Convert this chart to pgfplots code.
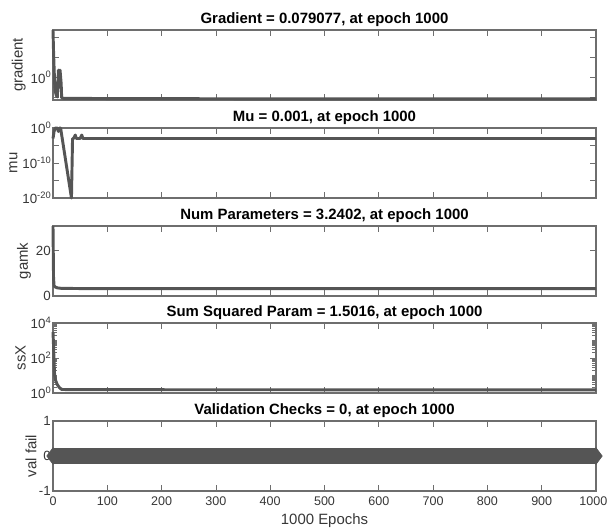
\documentclass[border=0pt]{standalone}
\usepackage{pgfplots}
\pgfplotsset{compat=1.18}
\usepackage{fontspec}
\setmainfont{Liberation Sans}

\definecolor{ln}{RGB}{85,85,85}
\definecolor{ax}{RGB}{110,110,110}
\definecolor{tk}{RGB}{55,55,55}
% power-of-ten tick label in the text font
\newcommand{\pw}[1]{10\raisebox{0.75ex}{\fontsize{7}{8}\selectfont #1}}

\pgfplotsset{
  panel/.style={
    scale only axis, width=407.25pt, height=52.5pt,
    xmin=0, xmax=1000, xtick={0,100,...,1000},
    xticklabels={},
    clip=false,
    axis line style={ax, line width=0.8pt},
    every tick/.style={ax, line width=0.6pt},
    xticklabel style={font=\fontsize{9.4}{11}\selectfont, text=tk},
    yticklabel style={font=\fontsize{10}{11}\selectfont, text=tk, inner xsep=1.5pt},
    label style={font=\fontsize{11.2}{12}\selectfont, text=tk, inner sep=2pt},
    title style={font=\fontsize{11.2}{12}\selectfont\bfseries, yshift=-7pt},
    /pgf/number format/assume math mode=true,
    yminorticks=false,
  },
  dl/.style={draw=ln, line width=2.2pt, line join=round, no markers},
}

\begin{document}
\begin{tikzpicture}
\path[use as bounding box] (-39.75pt,22.5pt) rectangle (417pt,-375.75pt);

% gradient
\begin{axis}[panel, at={(0,0)}, anchor=north west,
    ymode=log, ymin=0.07, ymax=250,
    ytick={0.1,1,10,100}, yticklabels={{},\pw{0},{},{}},
    ylabel={gradient},
    title={Gradient = 0.079077, at epoch 1000}]
\addplot[dl] coordinates {
  (0,250) (1,20) (2,3) (3,0.5) (4,0.2) (6,0.12) (8,0.1) (10,2.3) (11,0.3)
  (13,2.3) (15,0.5) (16,0.09) (20,0.085) (100,0.083) (200,0.082)
  (400,0.08) (700,0.0795) (1000,0.079077)
};
\end{axis}

% mu
\begin{axis}[panel, at={(0,-73.5pt)}, anchor=north west,
    ymode=log, ymin=1e-20, ymax=1,
    ytick={1e-20,1e-15,1e-10,1e-5,1}, yticklabels={\pw{-20},{},\pw{-10},{},\pw{0}},
    ylabel={mu},
    title={Mu = 0.001, at epoch 1000}]
\addplot[dl] coordinates {
  (0,1e-3) (2,1e-1) (4,1) (8,1) (10,0.1) (12,1) (14,1) (34,1e-20)
  (36,1e-3) (38,1e-3) (41,1e-2) (43,1e-3) (45,1e-3) (50,1e-3) (53,1e-2)
  (55,1e-3) (1000,1e-3)
};
\end{axis}

% gamk
\begin{axis}[panel, at={(0,-147pt)}, anchor=north west,
    ymin=0, ymax=31, ytick={0,20},
    ylabel={gamk},
    title={Num Parameters = 3.2402, at epoch 1000}]
\addplot[dl] coordinates {
  (0,31) (1,8) (2,4.5) (4,4) (8,3.6) (15,3.4) (50,3.3) (1000,3.2402)
};
\end{axis}

% ssX
\begin{axis}[panel, at={(0,-219.75pt)}, anchor=north west,
    ymode=log, ymin=1, ymax=1e4,
    ytick={1,100,10000}, yticklabels={\pw{0},\pw{2},\pw{4}},
    yminorticks=true,
    minor ytick={2,3,4,5,6,7,8,9,10,20,30,40,50,60,70,80,90,
                 200,300,400,500,600,700,800,900,1000,
                 2000,3000,4000,5000,6000,7000,8000,9000},
    ylabel={ssX},
    title={Sum Squared Param = 1.5016, at epoch 1000}]
\addplot[dl] coordinates {
  (0,3000) (1,500) (2,50) (3,10) (5,5) (8,3) (12,2) (16,1.6) (30,1.55)
  (1000,1.5016)
};
\end{axis}

% val fail
\begin{axis}[panel, at={(0,-293.25pt)}, anchor=north west,
    ymin=-1, ymax=1, ytick={-1,0,1},
    xticklabels={0,100,200,300,400,500,600,700,800,900,1000\hspace*{4pt}},
    xticklabel style={yshift=-1pt},
    ylabel={val fail}, xlabel={1000 Epochs},
    ylabel shift=-2pt,
    title={Validation Checks = 0, at epoch 1000}]
\addplot[draw=ln, fill=ln, line width=12pt, mark=diamond*, mark size=6.2pt,
    mark options={line width=0.5pt}] coordinates {
  (0,0) (1000,0)
};
\end{axis}
\end{tikzpicture}
\end{document}
